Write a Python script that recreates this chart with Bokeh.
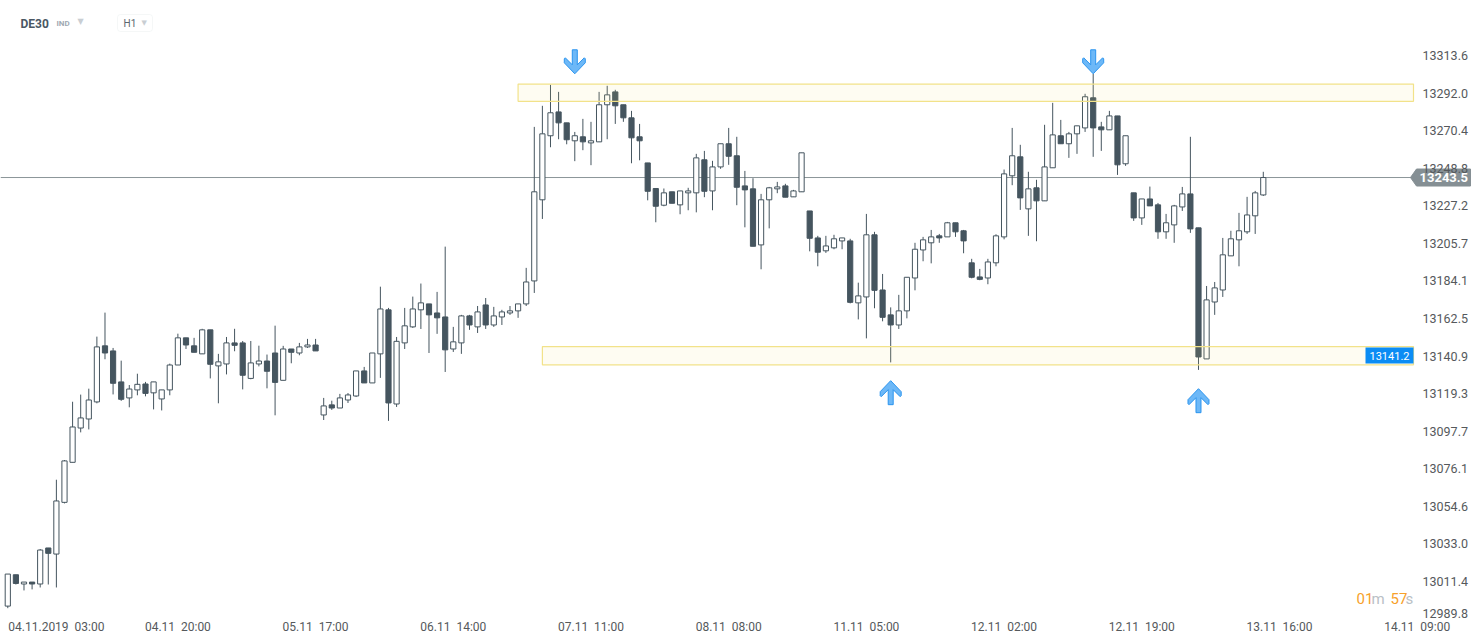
from bokeh.plotting import figure
from bokeh.models import (Range1d, FixedTicker, Label, BoxAnnotation, ColumnDataSource)
from bokeh.embed import file_html
from bokeh.resources import INLINE

# ---------------- data (DE30, H1 candles) ----------------
opens = [12997.3, 13015.3, 13010.0, 13011.1, 13010.0, 13030.7, 13027.2, 13056.9, 13079.9, 13099.6,
         13104.8, 13114.6, 13146.8, 13143.9, 13126.1, 13116.9, 13121.5, 13124.9, 13119.8, 13116.3,
         13121.5, 13135.8, 13151.4, 13146.8, 13142.2, 13156.0, 13135.3, 13136.4, 13148.5, 13148.5,
         13128.1, 13136.4, 13138.1, 13142.7, 13127.0, 13145.0, 13142.7, 13146.2, 13147.3, 13107.1,
         13112.9, 13111.1, 13115.7, 13118.0, 13132.4, 13125.5, 13142.2, 13167.5, 13113.4, 13148.5,
         13157.7, 13167.5, 13170.9, 13165.7, 13163.4, 13145.0, 13148.5, 13164.0, 13157.7, 13170.3,
         13158.8, 13163.4, 13165.7, 13166.9, 13170.9, 13184.1, 13230.7, 13267.5, 13281.2, 13274.9,
         13264.6, 13266.9, 13263.4, 13264.0, 13285.3, 13292.7, 13285.3, 13277.8, 13266.9, 13251.9,
         13237.2, 13227.6, 13235.3, 13227.8, 13234.7, 13234.7, 13253.7, 13235.8, 13249.6, 13262.9,
         13256.0, 13238.7, 13237.0, 13204.8, 13230.7, 13237.0, 13238.7, 13232.4, 13235.3, 13224.3,
         13208.8, 13201.4, 13203.1, 13207.1, 13207.1, 13171.5, 13174.9, 13210.6, 13178.9, 13164.6,
         13158.8, 13166.9, 13185.8, 13201.9, 13206.0, 13210.0, 13209.4, 13217.5, 13212.9, 13194.5,
         13186.4, 13185.8, 13194.5, 13209.4, 13244.5, 13255.4, 13225.5, 13237.6, 13230.1, 13249.1,
         13267.5, 13262.9, 13268.6, 13272.0, 13289.3, 13272.6, 13270.9, 13278.9, 13251.4, 13234.7,
         13220.3, 13231.2, 13227.8, 13212.3, 13216.3, 13226.6, 13234.1, 13214.6, 13139.3, 13172.0,
         13178.9, 13198.5, 13207.7, 13212.3, 13221.5, 13233.5]
highs = [13015.7, 13015.3, 13011.1, 13011.1, 13030.1, 13030.7, 13069.9, 13081.2, 13114.7, 13118.8,
         13122.2, 13152.1, 13165.9, 13145.6, 13138.3, 13124.3, 13130.8, 13126.1, 13126.1, 13121.5,
         13136.6, 13153.8, 13151.4, 13151.4, 13156.6, 13156.0, 13142.2, 13151.9, 13156.6, 13149.6,
         13149.6, 13146.9, 13141.8, 13158.4, 13146.8, 13145.0, 13148.5, 13150.8, 13150.8, 13116.9,
         13115.3, 13119.2, 13119.7, 13132.4, 13134.7, 13142.7, 13180.8, 13168.6, 13151.9, 13168.6,
         13175.1, 13182.6, 13170.9, 13177.8, 13203.8, 13157.7, 13164.6, 13164.6, 13169.7, 13174.3,
         13169.2, 13167.5, 13169.7, 13170.9, 13191.6, 13272.6, 13284.7, 13296.8, 13292.7, 13274.9,
         13269.7, 13277.2, 13275.5, 13292.7, 13296.2, 13293.9, 13285.3, 13281.8, 13274.3, 13251.9,
         13237.2, 13237.2, 13235.3, 13235.8, 13237.6, 13257.1, 13258.8, 13253.1, 13262.9, 13272.0,
         13266.9, 13247.3, 13243.1, 13234.1, 13238.1, 13241.0, 13239.9, 13236.4, 13257.7, 13224.3,
         13210.0, 13210.0, 13210.6, 13208.8, 13208.3, 13183.1, 13222.6, 13212.3, 13188.1, 13168.9,
         13176.1, 13186.2, 13206.0, 13209.4, 13213.4, 13211.1, 13218.0, 13217.5, 13213.4, 13196.8,
         13191.0, 13196.8, 13210.9, 13248.1, 13272.0, 13262.3, 13246.8, 13242.2, 13273.8, 13286.4,
         13276.6, 13269.7, 13273.2, 13291.6, 13303.1, 13275.5, 13281.8, 13278.9, 13267.5, 13234.7,
         13231.2, 13238.3, 13228.9, 13222.6, 13227.8, 13238.1, 13266.9, 13214.6, 13181.2, 13183.5,
         13208.8, 13212.9, 13223.2, 13232.4, 13235.8, 13246.8]
lows = [12996.1, 13009.7, 13006.3, 13006.9, 13008.0, 13009.7, 13008.0, 13056.3, 13079.9, 13097.1,
        13098.8, 13113.8, 13139.1, 13118.9, 13115.2, 13111.5, 13118.4, 13117.8, 13110.3, 13109.7,
        13118.4, 13135.8, 13145.0, 13143.1, 13142.2, 13128.1, 13113.8, 13130.4, 13143.7, 13121.8,
        13127.6, 13135.0, 13122.4, 13106.9, 13127.0, 13136.8, 13141.4, 13145.6, 13143.9, 13104.2,
        13110.0, 13111.1, 13114.0, 13117.4, 13125.5, 13125.5, 13128.4, 13103.7, 13111.7, 13145.0,
        13157.1, 13156.5, 13142.7, 13153.7, 13131.8, 13143.3, 13142.2, 13156.0, 13154.2, 13156.5,
        13157.7, 13158.8, 13164.6, 13162.9, 13169.7, 13177.2, 13219.7, 13260.9, 13265.5, 13262.6,
        13252.9, 13259.2, 13250.6, 13264.0, 13265.5, 13274.3, 13275.5, 13251.7, 13253.4, 13230.4,
        13217.8, 13227.0, 13228.7, 13222.4, 13224.7, 13223.5, 13232.2, 13224.7, 13248.5, 13250.8,
        13227.6, 13214.9, 13204.0, 13190.8, 13214.3, 13234.5, 13232.2, 13232.4, 13235.3, 13201.1,
        13192.5, 13200.2, 13202.3, 13202.3, 13171.2, 13162.0, 13151.1, 13168.4, 13160.9, 13137.3,
        13156.5, 13162.6, 13178.7, 13195.4, 13194.2, 13206.0, 13209.4, 13209.4, 13200.0, 13185.6,
        13184.5, 13182.2, 13192.5, 13208.0, 13239.1, 13224.9, 13210.0, 13206.9, 13230.1, 13249.1,
        13262.9, 13254.8, 13257.1, 13269.7, 13255.4, 13258.8, 13270.9, 13245.0, 13250.2, 13218.6,
        13216.3, 13227.2, 13208.3, 13208.3, 13206.0, 13224.3, 13211.7, 13133.0, 13139.3, 13164.6,
        13174.9, 13198.5, 13192.5, 13211.1, 13211.1, 13232.9]
closes = [13015.7, 13010.3, 13011.1, 13010.0, 13029.5, 13027.6, 13057.7, 13080.7, 13100.2, 13105.4,
          13115.7, 13146.2, 13142.7, 13125.3, 13116.1, 13122.0, 13124.7, 13119.5, 13126.1, 13121.5,
          13135.8, 13151.4, 13147.3, 13143.1, 13156.0, 13136.2, 13137.6, 13148.5, 13147.1, 13129.9,
          13137.0, 13138.1, 13132.2, 13125.8, 13145.0, 13143.1, 13146.2, 13147.3, 13143.9, 13112.3,
          13111.1, 13116.9, 13118.6, 13132.4, 13125.5, 13142.7, 13168.0, 13114.0, 13149.4, 13158.3,
          13168.0, 13171.5, 13164.6, 13162.9, 13144.5, 13149.1, 13164.0, 13158.8, 13166.3, 13158.8,
          13164.0, 13166.3, 13166.9, 13170.9, 13183.5, 13235.3, 13268.6, 13280.7, 13274.9, 13265.2,
          13267.5, 13264.0, 13264.6, 13285.3, 13291.0, 13284.7, 13277.8, 13266.3, 13264.6, 13235.6,
          13227.0, 13234.7, 13228.7, 13235.8, 13235.8, 13254.8, 13235.6, 13249.6, 13262.9, 13255.7,
          13237.9, 13236.4, 13204.0, 13230.7, 13237.6, 13238.1, 13232.2, 13235.8, 13257.7, 13208.6,
          13200.6, 13204.2, 13208.3, 13208.8, 13171.8, 13175.5, 13210.6, 13178.7, 13163.2, 13158.8,
          13166.9, 13186.2, 13202.3, 13207.7, 13209.4, 13208.8, 13217.5, 13212.3, 13207.1, 13186.2,
          13185.0, 13195.0, 13210.0, 13245.6, 13256.0, 13231.8, 13237.0, 13230.1, 13249.6, 13268.0,
          13262.9, 13268.6, 13273.2, 13289.9, 13272.0, 13270.9, 13278.9, 13250.8, 13267.5, 13220.3,
          13231.2, 13227.2, 13212.3, 13217.5, 13227.2, 13234.1, 13214.0, 13140.4, 13173.2, 13180.1,
          13199.1, 13208.3, 13212.9, 13222.0, 13234.7, 13243.5]

# time-axis labels (bar index -> label); the first one is shifted right as in the picture
x_tick_idx = [6, 21, 38, 55, 72, 89, 106, 123, 140, 157, 174]
x_tick_labels = ["04.11.2019\u00a0\u00a003:00", "04.11\u00a0\u00a020:00", "05.11\u00a0\u00a017:00",
                 "06.11\u00a0\u00a014:00", "07.11\u00a0\u00a011:00", "08.11\u00a0\u00a008:00",
                 "11.11\u00a0\u00a005:00", "12.11\u00a0\u00a002:00", "12.11\u00a0\u00a019:00",
                 "13.11\u00a0\u00a016:00", "14.11\u00a0\u00a009:00"]
y_ticks = [12989.8, 13011.4, 13033.0, 13054.6, 13076.1, 13097.7, 13119.3, 13140.9,
           13162.5, 13184.1, 13205.7, 13227.2, 13248.8, 13270.4, 13292.0, 13313.6]
last_price = 13243.5

# support / resistance zones
zone_left_idx = [63, 66]
zone_top = [13297.2, 13146.4]
zone_bottom = [13287.3, 13135.9]
zone_level_label = "13141.2"
zone_level_price = 13141.2

# signal arrows (bar index, tip price)
down_idx = [70, 134]
down_price = [13303.1, 13303.1]
up_idx = [109, 147]
up_price = [13126.8, 13122.2]

# ---------------- layout / style ----------------
PLOT_W = 1413                      # width of the candle area in px
FRAME_W, FRAME_H = 1474, 619
PX_X = 8.1                         # px per bar
X_START = -0.9
X_END = X_START + FRAME_W / PX_X
X_AXIS = X_START + PLOT_W / PX_X   # where the price axis sits
Y_START, Y_END = 12989.6, 13345.2
PX_Y = FRAME_H / (Y_END - Y_START)
DARK = "#45555f"
FONT = "Roboto"
TAG_GREY = "#858f94"

p = figure(frame_width=FRAME_W, frame_height=FRAME_H,
           x_range=Range1d(X_START, X_END), y_range=Range1d(Y_START, Y_END),
           y_axis_location="right", output_backend="svg", toolbar_location=None,
           min_border=0, background_fill_color="white", border_fill_color="white",
           outline_line_color=None)
p.grid.visible = False

# axes: price labels; the lowest one is kept inside the chart, as the platform does
y_tick_pos = [max(t, Y_START + 6.5 / PX_Y) for t in y_ticks]
ya = p.yaxis[0]
ya.fixed_location = X_AXIS
ya.ticker = FixedTicker(ticks=y_tick_pos)
ya.major_label_overrides = {pos: f"{t:.1f}" for pos, t in zip(y_tick_pos, y_ticks)}
ya.axis_line_color = None
ya.major_tick_line_color = None
ya.minor_tick_line_color = None
ya.major_tick_out = 0
ya.major_tick_in = 0
ya.major_label_standoff = 9
ya.major_label_text_font = FONT
ya.major_label_text_font_size = "12.5px"
ya.major_label_text_color = "#55595c"

xa = p.xaxis[0]
xa.ticker = FixedTicker(ticks=x_tick_idx)
xa.major_label_overrides = {t: s for t, s in zip(x_tick_idx, x_tick_labels)}
xa.axis_line_color = None
xa.major_tick_line_color = None
xa.minor_tick_line_color = None
xa.major_tick_out = 0
xa.major_tick_in = 0
xa.major_label_standoff = 0
xa.major_label_text_font = FONT
xa.major_label_text_font_size = "12px"
xa.major_label_text_color = "#55595c"

# last-price line (behind candles)
p.segment(x0=[X_START], y0=[last_price], x1=[X_AXIS], y1=[last_price],
          line_color="#8c9699", line_width=1)

# candles
idx = list(range(len(opens)))
src = ColumnDataSource(dict(
    idx=idx, open=opens, high=highs, low=lows, close=closes,
    top=[max(o, c) for o, c in zip(opens, closes)],
    bottom=[min(o, c) for o, c in zip(opens, closes)],
    fill=["white" if c >= o else DARK for o, c in zip(opens, closes)],
))
p.segment(x0="idx", y0="high", x1="idx", y1="low", source=src, line_color=DARK, line_width=1)
p.vbar(x="idx", width=0.64, top="top", bottom="bottom", source=src,
       fill_color="fill", line_color=DARK, line_width=1)

# zones
p.quad(left=zone_left_idx, right=[X_AXIS] * len(zone_left_idx), top=zone_top, bottom=zone_bottom,
       fill_color="#f5e36e", fill_alpha=0.09, line_color="#f2e28a", line_width=1.2)

# arrows: shape in pixels (down arrow, tip at origin, y upward)
ARROW_PX = [(-2.5, 24), (2.5, 24), (2.5, 9), (9.5, 16), (10.5, 15), (10.5, 11), (0, 0),
            (-10.5, 11), (-10.5, 15), (-9.5, 16), (-2.5, 9)]
axs, ays = [], []
for i, pr in zip(down_idx, down_price):
    axs.append([i + dx / PX_X for dx, dy in ARROW_PX])
    ays.append([pr + dy / PX_Y for dx, dy in ARROW_PX])
for i, pr in zip(up_idx, up_price):
    axs.append([i + dx / PX_X for dx, dy in ARROW_PX])
    ays.append([pr - dy / PX_Y for dx, dy in ARROW_PX])
p.patches(xs=axs, ys=ays, fill_color="#6db8f7", line_color="#2a94ef", line_width=1)

# zone level tag
p.add_layout(Label(x=X_AXIS, y=zone_level_price, x_units="data", y_units="data",
                   text=zone_level_label, text_align="right", text_baseline="middle",
                   text_font=FONT, text_font_size="11px", text_color="white",
                   background_fill_color="#0b8cf4", padding=4))

# last price tag on the axis (grey pointer box)
TAG_PX = [(-3, 0), (3, 8.5), (57, 8.5), (57, -8.5), (3, -8.5)]
p.patch(x=[X_AXIS + dx / PX_X for dx, dy in TAG_PX],
        y=[last_price + dy / PX_Y for dx, dy in TAG_PX],
        fill_color=TAG_GREY, line_color=TAG_GREY, line_width=1)
p.add_layout(Label(x=X_AXIS + 6 / PX_X, y=last_price, x_units="data", y_units="data",
                   text=f"{last_price:.1f}", text_align="left", text_baseline="middle",
                   text_font=FONT, text_font_size="13px", text_font_style="bold",
                   text_color="white"))

# countdown
for txt, xx, col in [("01", 1356, "#f7a12a"), ("m", 1371, "#b9c0c5"),
                     ("57", 1390, "#f7a12a"), ("s", 1405, "#b9c0c5")]:
    p.add_layout(Label(x=xx, y=FRAME_H - 598, x_units="screen", y_units="screen", text=txt,
                       text_baseline="middle", text_font=FONT, text_font_size="15px",
                       text_color=col))

# header
p.add_layout(Label(x=20, y=FRAME_H - 23, x_units="screen", y_units="screen", text="DE30",
                   text_baseline="middle", text_font=FONT, text_font_size="12px",
                   text_font_style="bold", text_color="#4a5763"))
p.add_layout(Label(x=56, y=FRAME_H - 23, x_units="screen", y_units="screen", text="IND",
                   text_baseline="middle", text_font=FONT, text_font_size="8px",
                   text_font_style="bold", text_color="#9fa9b2"))
p.add_layout(Label(x=77, y=FRAME_H - 21, x_units="screen", y_units="screen", text="\u25bc",
                   text_baseline="middle", text_font="DejaVu Sans", text_font_size="8px",
                   text_color="#c9ced3"))
p.add_layout(BoxAnnotation(left=117, right=152, top=FRAME_H - 14, bottom=FRAME_H - 31,
                           left_units="screen", right_units="screen", top_units="screen",
                           bottom_units="screen", fill_color="white", fill_alpha=1,
                           line_color="#dfe3e6", line_width=1, border_radius=3))
p.add_layout(Label(x=123, y=FRAME_H - 23, x_units="screen", y_units="screen", text="H1",
                   text_baseline="middle", text_font=FONT, text_font_size="10px",
                   text_color="#5b6670"))
p.add_layout(Label(x=141, y=FRAME_H - 22, x_units="screen", y_units="screen", text="\u25bc",
                   text_baseline="middle", text_font="DejaVu Sans", text_font_size="7px",
                   text_color="#c9ced3"))

open("out.html", "w").write(file_html(p, INLINE))
